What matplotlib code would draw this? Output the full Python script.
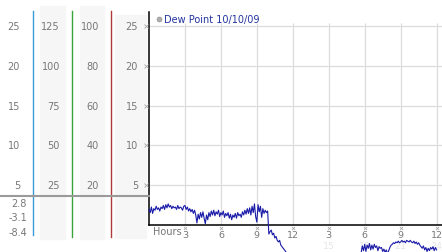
import matplotlib
matplotlib.use("Agg")
import matplotlib.pyplot as plt
import numpy as np
from matplotlib.patches import Rectangle
from matplotlib.transforms import blended_transform_factory

W, H = 442, 253

# dew point readings, every 0.1 h
dew_am = [1.9, 1.5, 2.2, 1.4, 2.0, 1.8, 2.3, 1.9, 2.1, 1.7,
          2.2, 2.0, 2.4, 1.9, 2.5, 2.1, 2.6, 2.2, 2.4, 2.0,
          2.3, 2.1, 2.2, 1.9, 2.4, 2.0, 2.2, 2.1, 1.8, 2.3,
          2.4, 1.9, 2.2, 1.7, 2.0, 1.6, 1.9, 1.4, 1.8, 1.2,
          0.2, 1.3, 0.7, 1.5, 0.9, 1.6, 0.8, 0.1, 1.2, 0.6,
          1.5, 1.0, 1.7, 1.2, 1.8, 1.1, 1.6, 1.3, 1.8, 1.0,
          1.5, 1.2, 1.7, 0.9, 1.4, 1.1, 1.5, 0.8, 1.3, 0.6,
          1.2, 0.9, 1.4, 0.8, 1.5, 1.1, 1.3, 0.9, 1.6, 1.2,
          1.8, 1.3, 2.0, 1.4, 2.1, 1.2, 2.3, 1.5, 2.6, 1.0,
          0.3, 2.5, 1.6, 2.3, 0.9, 2.0, 1.4, 1.8, 1.5, 1.7,
          -1.2, -0.9, -0.7, -1.3, -1.1, -1.7, -1.5, -2.0, -2.2, -2.0,
          -2.6, -2.8, -3.0, -3.2, -3.4, -3.7]
dew_pm = [-3.6, -2.7, -3.3,
          -2.5, -3.4, -2.6, -3.0, -2.4, -3.2, -2.6, -3.1, -2.5, -2.9,
          -2.7, -3.3, -2.8, -3.0, -2.9, -3.4, -3.1, -3.5, -3.2, -3.7,
          -3.3, -2.9, -2.6, -2.5, -2.3, -2.4, -2.2, -2.3, -2.1, -2.3,
          -2.2, -2.0, -2.2, -2.1, -2.3, -2.0, -2.1, -2.2, -2.0, -2.2,
          -2.3, -2.1, -2.4, -2.2, -2.5, -2.3, -2.6, -2.8, -3.0, -2.7,
          -3.2, -2.9, -3.4, -3.0, -3.3, -2.9, -3.1, -2.8, -3.3, -2.9,
          -3.2]
pm_start = 17.7

y_ticks = [25, 20, 15, 10, 5]
col_labels = [
    ["25", "20", "15", "10", "5"],
    ["125", "100", "75", "50", "25"],
    ["100", "80", "60", "40", "20"],
    ["25", "20", "15", "10", "5"],
]
low_labels = ["2.8", "-3.1", "-8.4"]
x_ticks = [3, 6, 9, 12, 15, 18, 21, 24]
x_labels = ["3", "6", "9", "12", "3", "6", "9", "12"]
x_faint = ["15", "18", "21", "24"]
title = "Dew Point 10/10/09"


def fx(x):
    return x / W


def fy(y):
    return 1 - y / H


fig = plt.figure(figsize=(W / 100, H / 100), dpi=100)
fig.patch.set_facecolor("white")

# main plot
ax = fig.add_axes([fx(149), fy(225.5), fx(442 - 149), (225.5 - 13) / H])
ax.set_xlim(0, 24.45)
ax.set_ylim(0, 26.8)
ax.set_facecolor("none")
for s in ["top", "right"]:
    ax.spines[s].set_visible(False)
ax.spines["left"].set_linewidth(1.1)
ax.spines["bottom"].set_linewidth(1.1)
ax.set_xticks([])
ax.set_yticks([])

grid_c = "#dcdcdc"
ax.hlines(y_ticks, 0, 24.45, color=grid_c, lw=0.9, zorder=0)
ax.vlines(x_ticks, 0, 25.4, color=grid_c, lw=0.9, zorder=0)

lab_c = "#777777"
xt = ax.get_xaxis_transform()
for h, lab in zip(x_ticks, x_labels):
    ax.text(h, -0.045, lab, transform=xt, ha="center", va="center",
            fontsize=6.8, color=lab_c, clip_on=False)
for h, lab in zip(x_ticks[4:], x_faint):
    ax.text(h, -0.10, lab, transform=xt, ha="center", va="center",
            fontsize=6.8, color="#e6e6e6", clip_on=False, zorder=1)
ax.scatter(x_ticks, [-0.018] * len(x_ticks), transform=xt, marker="x",
           s=5, lw=0.6, color="#aaaaaa", clip_on=False)
ax.text(0.35, -0.03, "Hours", transform=xt, ha="left", va="center",
        fontsize=7, color=lab_c, clip_on=False)

hours_am = np.arange(len(dew_am)) * 0.1
hours_pm = pm_start + np.arange(len(dew_pm)) * 0.1
hours = np.concatenate([hours_am, [np.nan], hours_pm])
dew = np.concatenate([dew_am, [np.nan], dew_pm])
ax.plot(hours, dew, color="#1a1aa8", lw=0.8, clip_on=False, zorder=3)

# legend
fig.lines.append(plt.Line2D([fx(159)], [fy(20)], marker="o", ms=3.5,
                            mfc="#b0b0b0", mec="#909090", mew=0.5,
                            transform=fig.transFigure))
fig.text(fx(164), fy(20), title, ha="left", va="center", fontsize=7,
         color="#2233a0")

# left columns of scales
bt = blended_transform_factory(fig.transFigure, ax.transData)
for x0, x1, y0, y1 in [(40, 65, 7, 240), (80, 104, 7, 240), (115, 146, 16, 239)]:
    fig.patches.append(Rectangle((fx(x0), fy(y1)), fx(x1 - x0), (y1 - y0) / H,
                                 transform=fig.transFigure, color="#f6f6f6",
                                 zorder=0))

for xr, labs in zip([20, 60, 99, 138], col_labels):
    for v, lab in zip(y_ticks, labs):
        fig.text(fx(xr), v, lab, transform=bt, ha="right", va="center",
                 fontsize=7, color=lab_c)

for v in y_ticks:
    fig.lines.append(plt.Line2D([fx(146)], [v], marker="x", ms=2.5, mew=0.6,
                                color="#aaaaaa", transform=bt))

for y, lab in zip([204, 218, 233], low_labels):
    fig.text(fx(27), fy(y), lab, ha="right", va="center", fontsize=7,
             color=lab_c)

for x, c, y1 in [(33, "#3a9bd5", 236), (72, "#3aa53a", 238), (111, "#b03a3a", 238)]:
    fig.lines.append(plt.Line2D([fx(x), fx(x)], [fy(12), fy(y1)], color=c,
                                lw=1.0, transform=fig.transFigure))

fig.lines.append(plt.Line2D([0, fx(149)], [fy(197), fy(197)], color="#9a9a9a",
                            lw=1.5, transform=fig.transFigure))

fig.savefig("out.png", dpi=100)
